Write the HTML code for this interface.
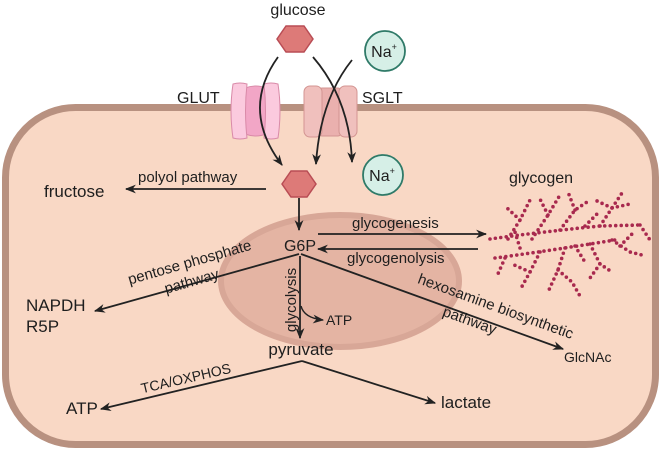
<!DOCTYPE html>
<html><head><meta charset="utf-8"><style>
html,body{margin:0;padding:0;background:#fff}
svg{display:block}
text{font-family:"Liberation Sans",sans-serif;fill:#1e1e1e}
</style></head><body>
<svg width="661" height="450" viewBox="0 0 661 450" xmlns="http://www.w3.org/2000/svg">
<defs>
<marker id="ah" viewBox="0 0 10 10" refX="9" refY="5" markerWidth="11" markerHeight="11" markerUnits="userSpaceOnUse" orient="auto">
<path d="M0,1 L10,5 L0,9 L3,5 Z" fill="#222"/>
</marker>
</defs>
<!-- cell -->
<rect x="5.5" y="107.5" width="650" height="337" rx="70" ry="70" fill="#f9d8c5" stroke="#b89180" stroke-width="7"/>
<!-- nucleus -->
<ellipse cx="340" cy="281" rx="119" ry="66" fill="#e4b4a3" stroke="#d8a797" stroke-width="6"/>

<!-- GLUT -->
<g stroke="#d98aa8" stroke-width="1">
<path d="M245,88 Q256,84 266,88 L266,134 Q256,138 245,134 Z" fill="#f2a6c6"/>
<path d="M233,84 Q240,82 247,84 Q244,111 247,138 Q240,140 233,138 Q229,111 233,84 Z" fill="#fbcade"/>
<path d="M264,84 Q271,82 278,84 Q282,111 278,138 Q271,140 264,138 Q267,111 264,84 Z" fill="#fbcade"/>
</g>
<!-- SGLT -->
<g stroke="#d39592" stroke-width="1">
<rect x="319" y="88" width="22" height="48" rx="3" fill="#eab0ae"/>
<rect x="304" y="86" width="18" height="51" rx="6" fill="#f0c0bd"/>
<rect x="339" y="86" width="18" height="51" rx="6" fill="#f0c0bd"/>
</g>

<!-- top hexagon -->
<polygon points="277,39 286,26 304,26 313,39 304,52 286,52" fill="#dd7a78" stroke="#b94d55" stroke-width="1.5"/>
<text x="298" y="15" font-size="16" text-anchor="middle">glucose</text>
<!-- Na+ top -->
<circle cx="385" cy="51" r="20" fill="#d6efe7" stroke="#2f7a68" stroke-width="1.8"/>
<text x="384" y="57" font-size="16" text-anchor="middle">Na<tspan font-size="9" dy="-7">+</tspan></text>

<text x="177" y="103" font-size="16">GLUT</text>
<text x="362" y="103" font-size="16">SGLT</text>

<!-- curved arrows -->
<path d="M278,57 Q240,110 282,165" fill="none" stroke="#222" stroke-width="1.8" marker-end="url(#ah)"/>
<path d="M313,57 Q350,100 352,162" fill="none" stroke="#222" stroke-width="1.8" marker-end="url(#ah)"/>
<path d="M352,60 Q320,100 316,164" fill="none" stroke="#222" stroke-width="1.8" marker-end="url(#ah)"/>

<!-- lower hexagon -->
<polygon points="282,184 291,171 307,171 316,184 307,197 291,197" fill="#dd7a78" stroke="#b94d55" stroke-width="1.5"/>
<circle cx="383" cy="175" r="20" fill="#d6efe7" stroke="#2f7a68" stroke-width="1.8"/>
<text x="382" y="181" font-size="16" text-anchor="middle">Na<tspan font-size="9" dy="-7">+</tspan></text>

<!-- polyol -->
<line x1="266" y1="189" x2="126" y2="189" stroke="#222" stroke-width="1.8" marker-end="url(#ah)"/>
<text x="138" y="182" font-size="15">polyol pathway</text>
<text x="44" y="197" font-size="17">fructose</text>

<!-- G6P -->
<line x1="299" y1="198" x2="299" y2="230" stroke="#222" stroke-width="1.8" marker-end="url(#ah)"/>
<text x="300" y="251" font-size="16" text-anchor="middle">G6P</text>
<line x1="318" y1="234" x2="486" y2="234" stroke="#222" stroke-width="1.8" marker-end="url(#ah)"/>
<line x1="478" y1="249" x2="318" y2="249" stroke="#222" stroke-width="1.8" marker-end="url(#ah)"/>
<text x="352" y="228" font-size="15">glycogenesis</text>
<text x="347" y="263" font-size="15">glycogenolysis</text>

<!-- glycogen -->
<text x="541" y="183" font-size="16" text-anchor="middle">glycogen</text>
<g fill="none" stroke="#a8294e" stroke-width="3.6" stroke-linecap="round" stroke-dasharray="0 5.5">
<path d="M490,239 Q540,232 600,226 L640,225"/>
<path d="M495,258 Q540,252 590,244 L615,240"/>
<path d="M508,239 L520,220 L530,200"/>
<path d="M520,220 L506,207"/>
<path d="M532,239 L548,215 L560,195"/>
<path d="M548,215 L540,199"/>
<path d="M560,230 L575,210 L590,200"/>
<path d="M575,210 L568,192"/>
<path d="M600,226 L612,208 L622,193"/>
<path d="M612,208 L595,200"/>
<path d="M612,208 L630,204"/>
<path d="M540,252 L530,272 L520,290"/>
<path d="M530,272 L512,264"/>
<path d="M565,248 L558,270 L548,292"/>
<path d="M558,270 L572,282 L580,296"/>
<path d="M590,244 L600,264 L612,272"/>
<path d="M600,264 L590,278"/>
<path d="M612,240 L630,252 L646,256"/>
<path d="M620,246 L632,234"/>
<path d="M505,258 L497,276"/>
<path d="M585,226 L597,214"/>
<path d="M640,225 L650,240"/>
<path d="M520,248 L515,232"/>
<path d="M575,246 L585,262"/>
</g>

<!-- pentose -->
<line x1="299" y1="254" x2="95" y2="311" stroke="#222" stroke-width="1.8" marker-end="url(#ah)"/>
<text font-size="15" text-anchor="middle" transform="translate(191,267) rotate(-16)">pentose phosphate</text>
<text font-size="15" text-anchor="middle" transform="translate(193,286) rotate(-16)">pathway</text>
<text x="26" y="311" font-size="17">NAPDH</text>
<text x="26" y="332" font-size="17">R5P</text>

<!-- hexosamine -->
<line x1="301" y1="254" x2="563" y2="349" stroke="#222" stroke-width="1.8" marker-end="url(#ah)"/>
<text font-size="15" text-anchor="middle" transform="translate(494,311) rotate(20)">hexosamine biosynthetic</text>
<text font-size="15" text-anchor="middle" transform="translate(468,325) rotate(20)">pathway</text>
<text x="564" y="362" font-size="14">GlcNAc</text>

<!-- glycolysis -->
<line x1="300" y1="256" x2="300" y2="338" stroke="#222" stroke-width="1.8" marker-end="url(#ah)"/>
<text font-size="15" text-anchor="middle" transform="translate(296,300) rotate(-90)">glycolysis</text>
<path d="M301,306 Q304,318 323,320" fill="none" stroke="#222" stroke-width="1.5" marker-end="url(#ah)"/>
<text x="326" y="325" font-size="14">ATP</text>
<text x="301" y="355" font-size="17" text-anchor="middle">pyruvate</text>

<!-- bottom -->
<line x1="302" y1="361" x2="101" y2="409" stroke="#222" stroke-width="1.8" marker-end="url(#ah)"/>
<line x1="302" y1="361" x2="435" y2="403" stroke="#222" stroke-width="1.8" marker-end="url(#ah)"/>
<text font-size="14" text-anchor="middle" transform="translate(187,383) rotate(-13)">TCA/OXPHOS</text>
<text x="66" y="414" font-size="17">ATP</text>
<text x="441" y="408" font-size="17">lactate</text>
</svg>
</body></html>
